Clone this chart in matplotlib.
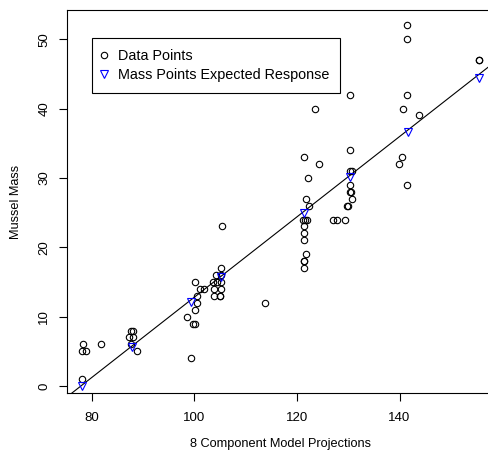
import matplotlib
matplotlib.use("Agg")
import matplotlib.pyplot as plt
from matplotlib.lines import Line2D

plt.rcParams['font.family'] = ['Liberation Sans', 'DejaVu Sans']

# observed mussel mass vs model projection
proj_x = [78.3, 78.2, 78.9, 78.2, 81.9,
          87.6, 88.0, 87.3, 88.1, 87.7, 88.8,
          100.1, 98.5, 100.1, 100.6, 100.5, 99.7, 100.2, 99.4, 101.1, 101.9,
          105.5, 105.3, 104.2, 105.3, 103.6, 104.4, 105.2, 103.9, 105.3, 103.8, 105.0, 105.1,
          113.8,
          121.3, 124.4, 122.2, 121.7, 122.4, 121.1, 121.6, 122.0, 121.3, 121.3, 121.3,
          121.7, 121.3, 121.4, 121.3, 123.6,
          127.0, 127.8, 129.4,
          130.4, 130.4, 130.3, 130.7, 130.4, 130.4, 130.5, 130.7, 129.7, 129.9,
          141.5, 141.5, 141.5, 140.6, 143.8, 140.5, 139.8, 141.5,
          155.4, 155.5]
mass_y = [6, 5, 5, 1, 6,
          8, 8, 7, 7, 6, 5,
          15, 10, 11, 12, 13, 9, 9, 4, 14, 14,
          23, 17, 16, 16, 15, 15, 15, 14, 14, 13, 13, 13,
          12,
          33, 32, 30, 27, 26, 24, 24, 24, 23, 22, 21,
          19, 18, 18, 17, 40,
          24, 24, 24,
          42, 34, 31, 31, 29, 28, 28, 27, 26, 26,
          52, 50, 42, 40, 39, 33, 32, 29,
          47, 47]

# expected response at each mass point
exp_x = [78.2, 87.8, 99.4, 105.3, 121.3, 130.4, 141.6, 155.4]
exp_y = [0.0, 5.6, 12.1, 15.7, 25.0, 30.2, 36.6, 44.4]

fit_intercept = -45.1
fit_slope = 0.579

fig = plt.figure(figsize=(4.89, 4.51), dpi=100)
ax = fig.add_axes([67 / 489, 58 / 451, (495 - 67) / 489, 383 / 451])

ax.plot(proj_x, mass_y, linestyle='none', marker='o', ms=4.6,
        mfc='none', mec='black', mew=0.8)
ax.axline((0, fit_intercept), slope=fit_slope, color='black', lw=0.8)
ax.plot(exp_x, exp_y, linestyle='none', marker='v', ms=5.5,
        mfc='none', mec='blue', mew=0.8)

ax.set_xlim(75.2, 158.6)
ax.set_ylim(-1.0, 54.2)
ax.set_xticks([80, 100, 120, 140])
ax.set_yticks([0, 10, 20, 30, 40, 50])
ax.tick_params(direction='out', length=6, width=0.8, labelsize=9.5)
ax.tick_params(axis='x', pad=8)
ax.tick_params(axis='y', pad=6)
for lab in ax.get_yticklabels():
    lab.set_rotation(90)
    lab.set_va('center')
for sp in ax.spines.values():
    sp.set_linewidth(0.8)

ax.set_xlabel('8 Component Model Projections', fontsize=9.2, labelpad=10)
ax.set_ylabel('Mussel Mass', fontsize=9.2, labelpad=12)

handles = [Line2D([], [], linestyle='none', marker='o', ms=4.6, mfc='none',
                  mec='black', mew=0.8),
           Line2D([], [], linestyle='none', marker='v', ms=5.5, mfc='none',
                  mec='blue', mew=0.8)]
leg = ax.legend(handles, ['Data Points', 'Mass Points Expected Response'],
                loc='upper left', bbox_to_anchor=(0.058, 0.926), fontsize=10.4,
                fancybox=False, edgecolor='black', framealpha=1,
                handlelength=0.2, handletextpad=0.9, borderpad=0.72,
                labelspacing=0.38, borderaxespad=0)
leg.get_frame().set_linewidth(0.8)

fig.savefig('out.png', dpi=100)
